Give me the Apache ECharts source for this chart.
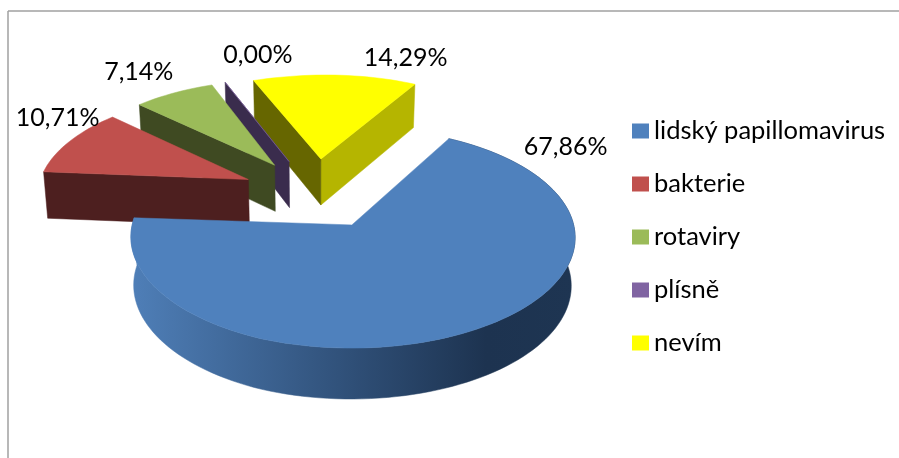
<!DOCTYPE html>
<html>
<head>
<meta charset="utf-8">
<style>html,body{margin:0;padding:0;background:#fff}#chart{width:899px;height:458px}</style>
<script src="https://cdn.jsdelivr.net/npm/echarts@6/dist/echarts.min.js"></script>
</head>
<body>
<div id="chart"></div>
<script>
// Categories and their shares in percent
const categories = ['lidský papillomavirus', 'bakterie', 'rotaviry', 'plísně', 'nevím'];
const shares = [67.86, 10.71, 7.14, 0.00, 14.29];

// Palette: top face, wall along the start edge, wall along the end edge (null = faces away)
const topColors = ['#4f81bd', '#c0504d', '#9bbb59', '#8064a2', '#ffff00'];
const startWallColors = [null, '#4d1f1f', '#3f4a22', '#3a2c4d', '#666600'];
const endWallColors = [null, null, null, null, '#b5b500'];
// Paint order, farthest slice first
const paintOrder = [5, 4, 3, 2, 1];
// Label shift from its rim anchor, in pixels
const labelShiftX = [65, 22, -17, 44, 68];
const labelShiftY = [-208, -16, -8, -13, -2];

// Perspective projection of the pie plane (unit circle = slice radius)
const view = { cx: 317, cy: 193, ax: 214, ay: 101, k: 0.115, skew: 5.5, explode: 0.35, firstAngle: 28.5 };
const FONT = 'Lato, "Open Sans", sans-serif';
const DEG = Math.PI / 180;

function project(u, v) {
  const d = 1 + view.k * v;
  // Lens correction on the far left of the plane
  const left = Math.max(0, -u - 0.2);
  return [
    view.cx - 1.5 + view.skew * v + view.ax * u / d + 4 * left,
    view.cy - view.ay * v / d - 3 * left
  ];
}
// Lower edge of the extruded pie under a plane point
function projectBase(u, v) {
  const p = project(u, v);
  return [view.cx + (p[0] - view.cx) * 0.985, p[1] + 47 - 3 * v];
}

// Angular span of each slice, accumulated clockwise from the first angle
const total = shares.reduce((a, b) => a + b, 0);
let running = view.firstAngle;
const spans = shares.map(s => {
  const from = running;
  running += s / total * 360;
  return [from, running];
});

function buildSlice(idx, api) {
  const [a0, a1] = spans[idx];
  const mid = (a0 + a1) / 2 * DEG;
  const ou = view.explode * Math.sin(mid);
  const ov = view.explode * Math.cos(mid);
  const rim = [];
  const steps = Math.max(1, Math.ceil((a1 - a0) / 2));
  for (let i = 0; i <= steps; i++) {
    const t = (a0 + (a1 - a0) * i / steps) * DEG;
    rim.push([ou + Math.sin(t), ov + Math.cos(t)]);
  }
  const poly = (points, fill) => ({
    type: 'polygon',
    shape: { points },
    style: { fill, stroke: fill, lineWidth: 0.5 }
  });
  const topPts = [project(ou, ov)].concat(rim.map(p => project(p[0], p[1])));
  const wall = (a, b) => [project(a[0], a[1]), project(b[0], b[1]), projectBase(b[0], b[1]), projectBase(a[0], a[1])];
  const o = [ou, ov];
  const children = [];
  // Only the blue slice shows its curved outer wall
  if (idx === 0) {
    const rimWall = rim.map(p => project(p[0], p[1]))
      .concat(rim.slice().reverse().map(p => projectBase(p[0], p[1])));
    children.push(poly(rimWall, new echarts.graphic.LinearGradient(130, 0, 575, 0, [
      { offset: 0, color: '#4f7fb8' },
      { offset: 0.5, color: '#2f4f77' },
      { offset: 0.8, color: '#1d3350' },
      { offset: 1, color: '#1e3552' }
    ], true)));
  }
  if (endWallColors[idx]) children.push(poly(wall(o, rim[rim.length - 1]), endWallColors[idx]));
  if (startWallColors[idx]) children.push(poly(wall(o, rim[0]), startWallColors[idx]));
  children.push(poly(topPts, topColors[idx]));
  // Percentage label, anchored just outside the rim at the slice's mid angle
  const anchor = project(ou + 1.2 * Math.sin(mid), ov + 1.2 * Math.cos(mid));
  children.push({
    type: 'text',
    z2: 100,
    style: {
      x: anchor[0] + labelShiftX[idx],
      y: anchor[1] + labelShiftY[idx],
      text: api.value(0).toFixed(2).replace('.', ',') + '%',
      font: '25px ' + FONT,
      fill: '#000',
      align: 'center',
      verticalAlign: 'middle'
    }
  });
  return { type: 'group', children };
}

const series = categories.map((name, idx) => ({
  type: 'custom',
  name,
  coordinateSystem: 'none',
  silent: true,
  z: 2 + paintOrder[idx],
  itemStyle: { color: topColors[idx] },
  data: [[shares[idx]]],
  renderItem: (params, api) => buildSlice(idx, api)
}));

const chart = echarts.init(document.getElementById('chart'), null, { renderer: 'canvas' });
chart.setOption({
  animation: false,
  backgroundColor: '#fff',
  legend: {
    orient: 'vertical',
    left: 632,
    top: 116,
    padding: 0,
    icon: 'rect',
    itemWidth: 17,
    itemHeight: 15,
    itemGap: 23,
    selectedMode: false,
    data: categories,
    textStyle: { fontFamily: FONT, fontSize: 25.5, lineHeight: 30, color: '#000' }
  },
  graphic: [
    { type: 'line', shape: { x1: 8, y1: 11, x2: 899, y2: 11 }, style: { stroke: '#a0a0a0', lineWidth: 1.5 } },
    { type: 'line', shape: { x1: 8, y1: 11, x2: 8, y2: 458 }, style: { stroke: '#a0a0a0', lineWidth: 1.5 } }
  ],
  series
});
</script>
</body>
</html>
